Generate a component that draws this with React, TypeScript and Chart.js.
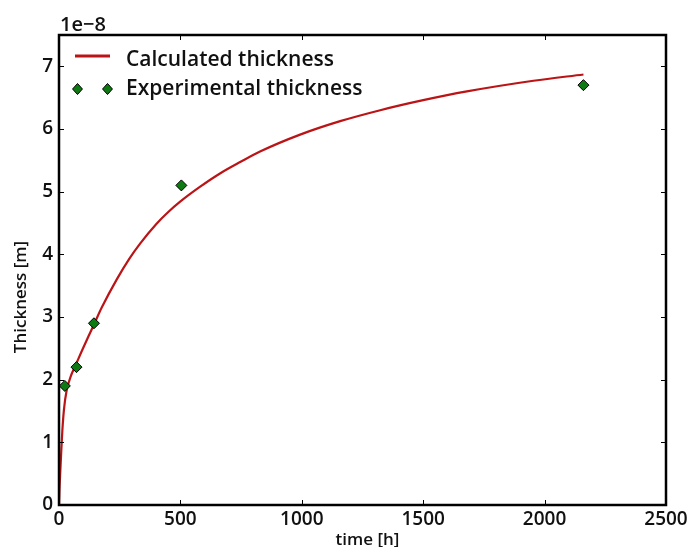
import React, { useEffect, useRef } from "react";
import { Chart, registerables } from "chart.js";

Chart.register(...registerables);

// ---- data (thickness in units of 1e-8 m) ----
const calcTime: number[] = [0, 2, 5.5, 9.6, 13.7, 20.6, 31.6, 49, 66, 93, 121, 144, 176, 238, 290, 334, 400, 450, 499, 580, 663, 750, 828, 993, 1158, 1323, 1500, 1680, 1954, 2160];
const calcThickness: number[] = [0, 0.25, 0.55, 0.88, 1.18, 1.53, 1.83, 2.06, 2.21, 2.45, 2.69, 2.88, 3.15, 3.6, 3.93, 4.17, 4.48, 4.675, 4.84, 5.075, 5.29, 5.48, 5.64, 5.91, 6.125, 6.3, 6.46, 6.6, 6.77, 6.87];
const expTime: number[] = [24, 72, 144, 504, 2160];
const expThickness: number[] = [1.9, 2.2, 2.9, 5.1, 6.7];
const xTickStep = 500;
const yTickStep = 1;
const xMax = 2500;
const yMax = 7.5;

const calcLabel = "Calculated thickness";
const expLabel = "Experimental thickness";
const xTitle = "time [h]";
const yTitle = "Thickness [m]";
const offsetText = "1e\u22128";

const RED = "#bb1416";
const GREEN = "#0d7a12";
const FONT = "'Open Sans', 'DejaVu Sans', sans-serif";

const decorPlugin = {
  id: "decor",
  afterDatasetsDraw(chart: any) {
    const { ctx, chartArea } = chart;
    const { left, right, top, bottom } = chartArea;
    const xs = chart.scales.x;
    const ys = chart.scales.y;
    ctx.save();
    // inner ticks on all four sides
    ctx.strokeStyle = "#000";
    ctx.lineWidth = 1;
    ctx.beginPath();
    xs.ticks.forEach((t: any) => {
      const px = Math.round(xs.getPixelForValue(t.value)) + 0.5;
      ctx.moveTo(px, bottom);
      ctx.lineTo(px, bottom - 5);
      ctx.moveTo(px, top);
      ctx.lineTo(px, top + 5);
    });
    ys.ticks.forEach((t: any) => {
      const py = Math.round(ys.getPixelForValue(t.value)) + 0.5;
      ctx.moveTo(left, py);
      ctx.lineTo(left + 5, py);
      ctx.moveTo(right, py);
      ctx.lineTo(right - 5, py);
    });
    ctx.stroke();
    // frame
    ctx.lineWidth = 2.5;
    ctx.strokeRect(left, top, right - left, bottom - top);

    // offset text
    ctx.fillStyle = "#111";
    ctx.font = `600 20px ${FONT}`;
    ctx.textAlign = "left";
    ctx.textBaseline = "alphabetic";
    ctx.fillText(offsetText, left + 1, top - 4);

    // axis titles
    ctx.font = `600 17px ${FONT}`;
    ctx.textAlign = "center";
    ctx.textBaseline = "middle";
    ctx.fillText(xTitle, (left + right) / 2 + 5, 540);
    ctx.save();
    ctx.translate(21.5, 297);
    ctx.rotate(-Math.PI / 2);
    ctx.fillText(yTitle, 0, 0);
    ctx.restore();

    // legend
    const ds0 = chart.data.datasets[1];
    const ds1 = chart.data.datasets[0];
    ctx.strokeStyle = ds0.borderColor;
    ctx.lineWidth = 3;
    ctx.beginPath();
    ctx.moveTo(75, 56);
    ctx.lineTo(110, 56);
    ctx.stroke();
    [77.5, 107.5].forEach((cx) => {
      const r = 5.5;
      ctx.beginPath();
      ctx.moveTo(cx, 89 - r);
      ctx.lineTo(cx + r * 0.9, 89);
      ctx.lineTo(cx, 89 + r);
      ctx.lineTo(cx - r * 0.9, 89);
      ctx.closePath();
      ctx.fillStyle = ds1.backgroundColor;
      ctx.fill();
      ctx.lineWidth = 1;
      ctx.strokeStyle = "#000";
      ctx.stroke();
    });
    ctx.fillStyle = "#111";
    ctx.font = `600 21px ${FONT}`;
    ctx.textAlign = "left";
    ctx.textBaseline = "middle";
    ctx.fillText(ds0.label, 126, 60);
    ctx.fillText(ds1.label, 126, 89);
    ctx.restore();
  },
};

export default function App() {
  const ref = useRef<HTMLCanvasElement | null>(null);
  useEffect(() => {
    if (!ref.current) return;
    const tickFont = { family: FONT, size: 19, weight: "600" as any };
    const chart = new Chart(ref.current, {
      type: "scatter",
      data: {
        datasets: [
          {
            label: expLabel,
            data: expTime.map((t, i) => ({ x: t, y: expThickness[i] })),
            pointStyle: "rectRot",
            pointRadius: 5.5,
            pointBackgroundColor: GREEN,
            backgroundColor: GREEN,
            pointBorderColor: "#000",
            pointBorderWidth: 1,
            showLine: false,
            order: 0,
          },
          {
            label: calcLabel,
            data: calcTime.map((t, i) => ({ x: t, y: calcThickness[i] })),
            showLine: true,
            borderColor: RED,
            borderWidth: 2.2,
            pointRadius: 0,
            cubicInterpolationMode: "monotone",
            fill: false,
            order: 1,
          },
        ],
      },
      options: {
        responsive: false,
        animation: false,
        devicePixelRatio: 1,
        layout: { padding: { left: 0, right: 23, top: 35, bottom: 0 } },
        plugins: { legend: { display: false }, tooltip: { enabled: false } },
        scales: {
          x: {
            type: "linear",
            min: 0,
            max: xMax,
            ticks: {
              stepSize: xTickStep,
              padding: 3,
              color: "#111",
              font: tickFont,
              maxRotation: 0,
              includeBounds: false,
              callback: (v: any) => String(v),
            } as any,
            grid: { display: false, drawTicks: false },
            border: { display: false },
            afterFit: (s: any) => {
              s.height = 42;
              s.paddingLeft = 0;
              s.paddingRight = 0;
            },
          },
          y: {
            type: "linear",
            min: 0,
            max: yMax,
            ticks: {
              stepSize: yTickStep,
              padding: 6,
              color: "#111",
              font: tickFont,
              includeBounds: false,
              callback: (v: any) => String(v),
            } as any,
            grid: { display: false, drawTicks: false },
            border: { display: false },
            afterFit: (s: any) => {
              s.width = 59;
              s.paddingTop = 0;
              s.paddingBottom = 0;
            },
          },
        },
      },
      plugins: [decorPlugin],
    });
    return () => chart.destroy();
  }, []);
  return (
    <div style={{ position: "fixed", left: 0, top: 0, width: 689, height: 547, background: "#fff" }}>
      <canvas ref={ref} width={689} height={547} style={{ display: "block", width: 689, height: 547 }} />
    </div>
  );
}
